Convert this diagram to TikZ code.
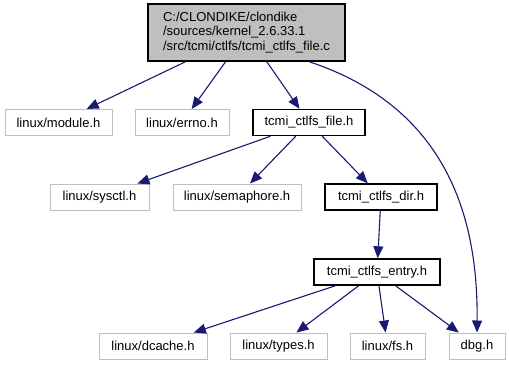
\documentclass[tikz,border=0pt]{standalone}
\usepackage{fontspec}
\setmainfont{Liberation Sans}
\usepackage{xcolor}
\usetikzlibrary{arrows.meta}
\definecolor{edgeblue}{HTML}{191970}
\definecolor{boxgray}{HTML}{BFBFBF}

\begin{document}
\begin{tikzpicture}[x=1pt,y=-1pt,
  ext/.style={draw=boxgray,line width=1pt,fill=white,minimum height=26pt,inner sep=0pt,font=\fontsize{13}{14.5}\selectfont},
  hdr/.style={ext,draw=black,line width=1.4pt},
  main/.style={hdr,fill=boxgray,minimum width=197pt,minimum height=57pt,align=left},
  dep/.style={draw=edgeblue,line width=1.1pt,-{Triangle[length=12pt,width=10pt]}}]
\useasboundingbox (0,0) rectangle (509,365);
\node[main] (src) at (246.5,32.5) {C:/CLONDIKE/clondike\\/sources/kernel\_2.6.33.1\\/src/tcmi/ctlfs/tcmi\_ctlfs\_file.c};
\node[ext,minimum width=107pt] (module) at (58.5,122.5) {linux/module.h};
\node[ext,minimum width=94pt] (errno) at (182,122.5) {linux/errno.h};
\node[hdr,minimum width=112pt] (fileh) at (309,122.5) {tcmi\_ctlfs\_file.h};
\node[ext,minimum width=99pt] (sysctl) at (99.5,197) {linux/sysctl.h};
\node[ext,minimum width=128pt] (semaphore) at (237,197) {linux/semaphore.h};
\node[hdr,minimum width=112pt] (dirh) at (381,197) {tcmi\_ctlfs\_dir.h};
\node[hdr,minimum width=126pt] (entryh) at (377,272) {tcmi\_ctlfs\_entry.h};
\node[ext,minimum width=108pt] (dcache) at (153,346) {linux/dcache.h};
\node[ext,minimum width=97pt] (types) at (278.5,346) {linux/types.h};
\node[ext,minimum width=75pt] (fs) at (387.5,346) {linux/fs.h};
\node[ext,minimum width=56pt] (dbg) at (477,346) {dbg.h};
\draw[dep] (src) -- (module);
\draw[dep] (src) -- (errno);
\draw[dep] (src) -- (fileh);
\draw[dep] (src.-25) .. controls (455,110) and (478,230) .. (dbg.north);
\draw[dep] (fileh) -- (sysctl);
\draw[dep] (fileh) -- (semaphore);
\draw[dep] (fileh) -- (dirh);
\draw[dep] (dirh) -- (entryh);
\draw[dep] (entryh) -- (dcache);
\draw[dep] (entryh) -- (types);
\draw[dep] (entryh) -- (fs);
\draw[dep] (entryh) -- (dbg);
\end{tikzpicture}
\end{document}
